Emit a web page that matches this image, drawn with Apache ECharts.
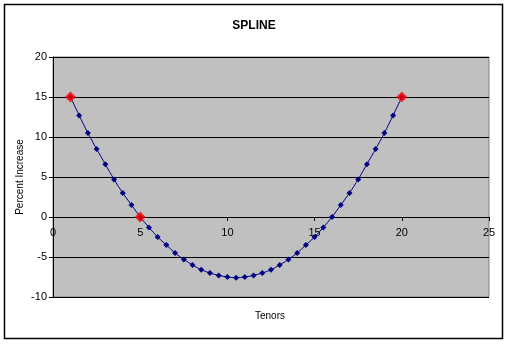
<!DOCTYPE html>
<html>
<head>
<meta charset="utf-8">
<script src="https://cdn.jsdelivr.net/npm/echarts@6/dist/echarts.min.js"></script>
<style>html,body{margin:0;padding:0;background:#fff;}#c{width:508px;height:344px;}</style>
</head>
<body>
<div id="c"></div>
<script>
var chartTitle = 'SPLINE';
var xAxisTitle = 'Tenors';
var yAxisTitle = 'Percent Increase';
var tenors = [1,1.5,2,2.5,3,3.5,4,4.5,5,5.5,6,6.5,7,7.5,8,8.5,9,9.5,10,10.5,11,11.5,12,12.5,13,13.5,14,14.5,15,15.5,16,16.5,17,17.5,18,18.5,19,19.5,20];
var splineValues = [15,12.7,10.5,8.5,6.6,4.7,3.0,1.5,0,-1.3,-2.5,-3.5,-4.5,-5.3,-6.0,-6.6,-7.0,-7.3,-7.5,-7.6,-7.5,-7.3,-7.0,-6.6,-6.0,-5.3,-4.5,-3.5,-2.5,-1.3,0,1.5,3.0,4.7,6.6,8.5,10.5,12.7,15];
var knotTenors = [1,5,20];
var knotValues = [15,0,15];

var font = 'Liberation Sans, Arial, sans-serif';
var chart = echarts.init(document.getElementById('c'), null, {renderer:'canvas'});
chart.setOption({
  animation:false,
  backgroundColor:'#ffffff',
  title:{text:chartTitle,left:'center',top:15,textStyle:{fontFamily:font,fontSize:12,fontWeight:'bold',color:'#000'}},
  grid:{left:53,right:19,top:57,bottom:47,show:true,backgroundColor:'#C0C0C0',borderColor:'#808080',borderWidth:1},
  xAxis:{type:'value',min:0,max:25,interval:5,position:'bottom',offset:-80,
    axisLine:{onZero:false,lineStyle:{color:'#000',width:1}},
    axisTick:{show:true,inside:false,length:4,lineStyle:{color:'#000'}},
    axisLabel:{fontFamily:font,fontSize:11,color:'#000',margin:10},
    splitLine:{show:false}},
  yAxis:{type:'value',min:-10,max:20,interval:5,
    axisLine:{show:true,lineStyle:{color:'#000',width:1}},
    axisTick:{show:true,inside:false,length:4,lineStyle:{color:'#000'}},
    axisLabel:{fontFamily:font,fontSize:11,color:'#000',margin:6},
    splitLine:{show:true,lineStyle:{color:'#000',width:1}}},
  graphic:[
    {type:'rect',shape:{x:4.5,y:4.5,width:498,height:334},style:{fill:null,stroke:'#000',lineWidth:1.5},z:100,silent:true},
    {type:'text',x:270,y:316,style:{text:xAxisTitle,font:'10px '+font,fill:'#000',textAlign:'center',textVerticalAlign:'middle'}},
    {type:'text',x:20,y:177,rotation:Math.PI/2,style:{text:yAxisTitle,font:'10px '+font,fill:'#000',textAlign:'center',textVerticalAlign:'middle'}}
  ],
  series:[
    {type:'line',data:tenors.map(function(t,i){return [t,splineValues[i]];}),smooth:0.3,
      symbol:'diamond',symbolSize:6,showAllSymbol:true,
      lineStyle:{color:'#000080',width:1},itemStyle:{color:'#000080'},z:3},
    {type:'scatter',data:knotTenors.map(function(t,i){return [t,knotValues[i]];}),
      symbol:'diamond',symbolSize:11,itemStyle:{color:'#FF0000'},z:5}
  ]
});
</script>
</body>
</html>
